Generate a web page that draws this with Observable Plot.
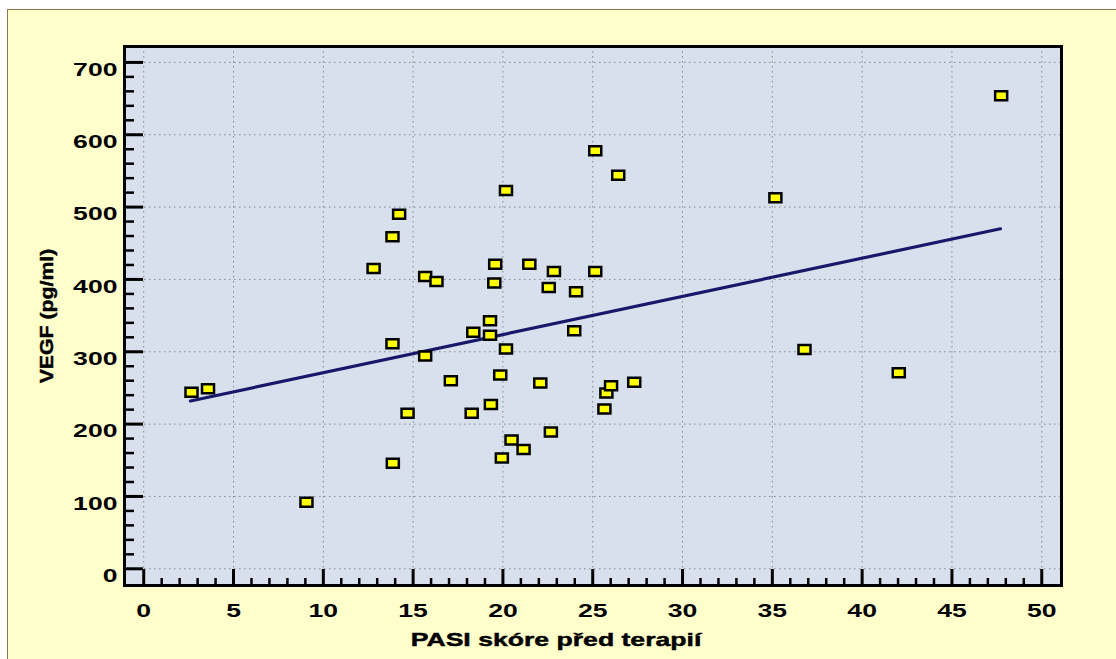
<!DOCTYPE html>
<html><head><meta charset="utf-8">
<script src="https://cdn.jsdelivr.net/npm/d3@7"></script>
<script src="https://cdn.jsdelivr.net/npm/@observablehq/plot@0.6"></script>
<style>
html,body{margin:0;padding:0;background:#fff;width:1116px;height:659px;overflow:hidden}
#bg{position:absolute;left:7px;top:9px;width:1109px;height:650px;background:#ffffcc;border-left:1.5px solid #857a55;border-top:1.5px solid #857a55;box-sizing:border-box}
#chart{position:absolute;left:0;top:0}
</style></head><body><div id="bg"></div><div id="chart"></div>
<script>
// PASI score before therapy (x) and VEGF in pg/ml (y)
const pasi = [2.66, 3.58, 9.06, 12.8, 13.85, 14.22, 13.85, 13.87, 14.69, 15.67, 16.3, 15.67, 17.1, 18.26, 18.35, 19.28, 19.28, 19.33, 19.52, 19.57, 19.85, 19.94, 20.17, 20.17, 20.48, 21.15, 21.47, 22.08, 22.55, 22.67, 22.84, 23.97, 24.07, 25.14, 25.14, 25.65, 25.76, 26.02, 26.42, 27.31, 35.17, 36.79, 42.04, 47.74];
const vegf = [244, 249, 92, 415, 459, 490, 311, 146, 215, 404, 397, 294, 260, 215, 327, 343, 323, 227, 395, 421, 268, 153, 523, 304, 178, 165, 421, 257, 389, 189, 411, 329, 383, 578, 411, 221, 243, 253, 544, 258, 513, 303, 271, 654];
// regression line end points
const trendPasi = [2.6, 47.7];
const trendVegf = [232, 470];
// ticks
const xTicks = [0, 5, 10, 15, 20, 25, 30, 35, 40, 45, 50];
const yTicks = [0, 100, 200, 300, 400, 500, 600, 700];
const xMinor = d3.range(1, 50).filter(v => v % 5 !== 0);
const yMinor = d3.range(20, 700, 20).filter(v => v % 100 !== 0);
const xTitle = "PASI skóre před terapií";
const yTitle = "VEGF (pg/ml)";

const points = pasi.map((x, i) => ({x, y: vegf[i]}));
const trend = trendPasi.map((x, i) => ({x, y: trendVegf[i]}));

const rectSymbol = {draw(ctx) { ctx.rect(-6, -4.5, 12, 9); }};

const W = 1116, H = 659, mL = 124, mR = 55, mT = 46, mB = 74;
const iw = W - mL - mR, ih = H - mT - mB;
const grid = {stroke: "#7d7d7d", strokeOpacity: 0.9, strokeWidth: 1, strokeDasharray: "1.5,3.5"};
const txt = {fontSize: 19, fontWeight: "bold", fill: "black", stroke: "black", strokeWidth: 0.45};

const chart = Plot.plot({
  width: W, height: H,
  marginLeft: mL, marginRight: mR, marginTop: mT, marginBottom: mB,
  style: {background: "transparent", fontFamily: "'Liberation Sans', Arial, sans-serif", fontWeight: "bold", fontSize: "19px", color: "black"},
  x: {domain: [-1.07, 51.1]},
  y: {domain: [-23.1, 722]},
  marks: [
    Plot.frame({fill: "#d8e0ed"}),
    Plot.gridX(xTicks, grid),
    Plot.gridY(yTicks, grid),
    Plot.tickY(yTicks, {y: d => d, stroke: "black", strokeWidth: 3, insetRight: iw - 19}),
    Plot.tickY(yMinor, {y: d => d, stroke: "black", strokeWidth: 2.5, insetRight: iw - 10}),
    Plot.tickX(xTicks, {x: d => d, stroke: "black", strokeWidth: 3, insetTop: ih - 16}),
    Plot.tickX(xMinor, {x: d => d, stroke: "black", strokeWidth: 2.5, insetTop: ih - 7}),
    Plot.axisX(xTicks, {tickSize: 0, tickPadding: 18, label: null, ...txt}),
    Plot.axisY(yTicks, {tickSize: 0, tickPadding: 7, dy: 7, label: null, ...txt}),
    Plot.text([xTitle], {text: d => d, frameAnchor: "bottom", textAnchor: "middle", lineAnchor: "top", dy: 47, dx: -37, ...txt}),
    Plot.text([yTitle], {text: d => d, frameAnchor: "left", textAnchor: "middle", lineAnchor: "middle", rotate: -90, dx: -78, ...txt}),
    Plot.line(trend, {x: "x", y: "y", stroke: "#18186a", strokeWidth: 3.2}),
    Plot.dot(points, {x: "x", y: "y", symbol: rectSymbol, fill: "#ffff00", stroke: "black", strokeWidth: 2.5}),
    Plot.frame({stroke: "black", strokeWidth: 3})
  ]
});
// widen the lettering the way the original picture does (stretch about each text's own anchor)
d3.select(chart).selectAll("text").each(function() {
  const s = this.textContent === yTitle ? 1.12 : 1.4;
  let t = this.getAttribute("transform") || "";
  const xa = this.getAttribute("x");
  if (xa !== null && xa !== "" && !isNaN(+xa) && +xa !== 0) {
    t += ` translate(${+xa},0)`;
    this.setAttribute("x", 0);
  }
  this.setAttribute("transform", `${t} scale(${s},1)`.trim());
});
document.getElementById("chart").append(chart);
</script></body></html>
